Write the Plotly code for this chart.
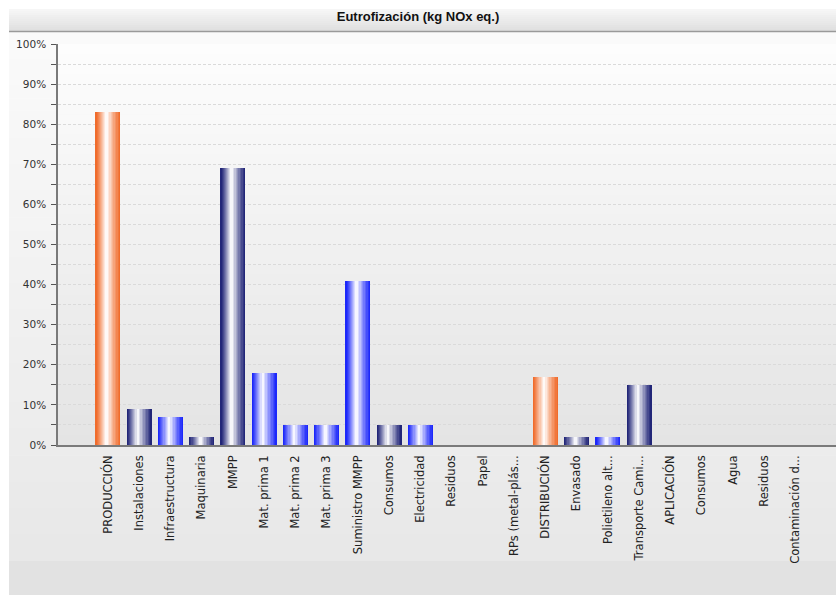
import plotly.graph_objects as go

# ---------------- data ----------------
categories = ["PRODUCCIÓN", "Instalaciones", "Infraestructura", "Maquinaria", "MMPP",
              "Mat. prima 1", "Mat. prima 2", "Mat. prima 3", "Suministro MMPP", "Consumos",
              "Electricidad", "Residuos", "Papel", "RPs (metal-plás...", "DISTRIBUCIÓN",
              "Envasado", "Polietileno alt...", "Transporte Cami...", "APLICACIÓN", "Consumos",
              "Agua", "Residuos", "Contaminación d..."]
values = [83, 9, 7, 2, 69, 18, 5, 5, 41, 5, 5, 0, 0, 0, 17, 2, 2, 15, 0, 0, 0, 0, 0]
groups = ["stage", "sub", "item", "sub", "sub", "item", "item", "item", "item", "sub",
          "item", "item", "item", "item", "stage", "sub", "item", "sub", "stage", "sub",
          "item", "item", "item"]
y_tick_values = [0, 10, 20, 30, 40, 50, 60, 70, 80, 90, 100]
y_tick_labels = ["0%", "10%", "20%", "30%", "40%", "50%", "60%", "70%", "80%", "90%", "100%"]
title_text = "Eutrofización (kg NOx eq.)"

# ---------------- styling ----------------
W, H = 837, 595
L, R, T, B = 58, 836, 44, 445          # plot area in pixels
edge_colors = {"stage": (240, 108, 44), "sub": (34, 38, 120), "item": (28, 40, 250)}

def hexc(c):
    return "#%02x%02x%02x" % tuple(int(round(v)) for v in c)

def mix(c, t):
    return tuple(a + (255 - a) * t for a in c)

def gx(xp):
    return (xp - L) / (R - L)

def gy(yp):
    return (B - yp) / (B - T)

shapes = []

def vgrad(x0, x1, y0, y1, c0, c1, n):
    for i in range(n):
        ya = y0 + (y1 - y0) * i / n
        yb = y0 + (y1 - y0) * (i + 1) / n + 0.6
        t = i / max(n - 1, 1)
        col = tuple(a + (b - a) * t for a, b in zip(c0, c1))
        shapes.append(dict(type="rect", xref="paper", yref="paper", layer="below",
                           x0=gx(x0), x1=gx(x1), y0=gy(ya), y1=gy(min(yb, y1)),
                           fillcolor=hexc(col), line=dict(width=0)))

# title band
vgrad(9, 836, 9, 31, (246, 246, 246), (224, 224, 224), 11)
# paper area below title
vgrad(9, 836, 32, 561, (250, 250, 250), (232, 232, 232), 40)
vgrad(9, 836, 561, 595, (226, 226, 226), (226, 226, 226), 1)
# plot area
vgrad(L, R, T, B, (253, 253, 253), (228, 228, 228), 40)
# title separator line
shapes.append(dict(type="line", xref="paper", yref="paper", layer="below",
                   x0=gx(9), x1=gx(836), y0=gy(31.5), y1=gy(31.5),
                   line=dict(color="#9a9a9a", width=1.5)))

fig = go.Figure()

x_idx = list(range(len(categories)))
K = 10
bar_w = 0.8
for k in range(K):
    t = (k / (K - 1)) ** 1.15 * 0.96
    w = bar_w * (1 - k / K)
    shift = -0.05 * (k / K)
    cols = [hexc(mix(edge_colors[g], t)) for g in groups]
    fig.add_trace(go.Bar(
        x=x_idx, y=values, width=w, offset=-w / 2 + shift,
        marker=dict(color=cols, line=dict(width=0)),
        showlegend=False, hoverinfo="skip"))

fig.update_layout(
    width=W, height=H,
    margin=dict(l=L, r=W - R, t=T, b=H - B, pad=0),
    paper_bgcolor="white",
    plot_bgcolor="rgba(0,0,0,0)",
    barmode="overlay",
    bargap=0,
    shapes=shapes,
    title=dict(text=title_text, x=418 / W, xref="container", xanchor="center",
               y=1 - 16 / H, yref="container", yanchor="middle",
               font=dict(family="Liberation Sans, Arial", size=13,
                         color="#111111", weight="bold")),
    font=dict(family="DejaVu Sans", color="#222222"),
)

fig.update_xaxes(
    range=[-1.6, 23.3],
    tickmode="array", tickvals=x_idx, ticktext=categories,
    tickangle=-90, ticks="", showgrid=False, zeroline=False,
    showline=True, linecolor="#7a7a7a", linewidth=1.5,
    tickfont=dict(family="DejaVu Sans", size=11.5, color="#222222"),
    ticklabelstandoff=4,
)

fig.update_yaxes(
    range=[0, 100],
    tickmode="array", tickvals=y_tick_values, ticktext=y_tick_labels,
    ticks="outside", ticklen=5, tickcolor="#555555", tickwidth=1,
    showgrid=True, gridcolor="#dadada", griddash="3px,2px", gridwidth=1,
    minor=dict(dtick=5, ticks="outside", ticklen=5, tickcolor="#555555",
               showgrid=True, gridcolor="#dadada", griddash="3px,2px"),
    zeroline=False, showline=True, linecolor="#7a7a7a", linewidth=1.5,
    tickfont=dict(family="DejaVu Sans", size=10.5, color="#333333"),
    ticklabelstandoff=3,
)

fig.write_html("out.html",
               config={"displayModeBar": False},
               post_script="document.body.style.margin='0';document.body.style.overflow='hidden';")
